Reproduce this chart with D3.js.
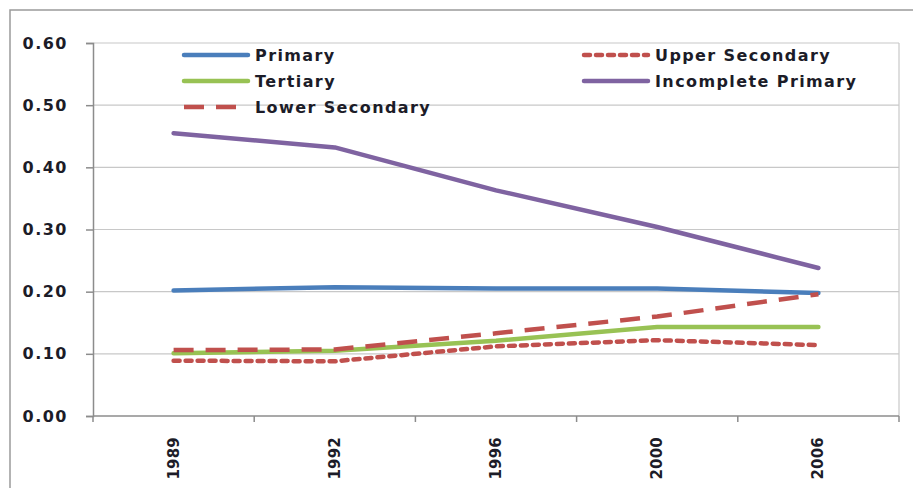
<!DOCTYPE html>
<html>
<head>
<meta charset="utf-8">
<script src="https://cdn.jsdelivr.net/npm/d3@7"></script>
<style>
  body { margin: 0; background: #fff; }
  text { font-family: "DejaVu Sans", Verdana, sans-serif; font-weight: bold; fill: #1c1c28; }
</style>
</head>
<body>
<div class="render"></div>
<script>
'use strict';

// data
var years = ['1989', '1992', '1996', '2000', '2006'];
var primary = [0.202, 0.207, 0.205, 0.205, 0.198];
var upperSecondary = [0.089, 0.088, 0.112, 0.122, 0.114];
var tertiary = [0.101, 0.105, 0.121, 0.143, 0.143];
var incompletePrimary = [0.455, 0.432, 0.363, 0.304, 0.238];
var lowerSecondary = [0.106, 0.107, 0.133, 0.160, 0.196];
var yTicks = [0, 0.1, 0.2, 0.3, 0.4, 0.5, 0.6];

var series = [
  { name: 'Primary', values: primary, color: '#4a7ebb', dash: null, cap: 'round' },
  { name: 'Upper Secondary', values: upperSecondary, color: '#c0504d', dash: '6,6', cap: 'round' },
  { name: 'Tertiary', values: tertiary, color: '#98c254', dash: null, cap: 'round' },
  { name: 'Incomplete Primary', values: incompletePrimary, color: '#7f63a1', dash: null, cap: 'round' },
  { name: 'Lower Secondary', values: lowerSecondary, color: '#c0504d', dash: '20,12', cap: 'butt' }
];

var w = 913, h = 488;
var padLeft = 93, padRight = 899, padTop = 43, padBottom = 416;

var svg = d3.select('.render').append('svg').attr('width', w).attr('height', h);

// outer chart border
svg.append('rect').attr('x', 10).attr('y', 10).attr('width', 960).attr('height', 600)
  .attr('fill', 'none').attr('stroke', '#9a9a9a').attr('stroke-width', 1.5);

var xScale = d3.scaleBand().domain(years).range([padLeft, padRight]);
var yScale = d3.scaleLinear().domain([0, 0.6]).range([padBottom, padTop]);

// gridlines
svg.append('g').selectAll('line').data(yTicks.slice(1)).enter().append('line')
  .attr('x1', padLeft).attr('x2', padRight)
  .attr('y1', function (d) { return yScale(d); }).attr('y2', function (d) { return yScale(d); })
  .attr('stroke', '#c8c8c8').attr('stroke-width', 1.2);

// plot area right border
svg.append('line').attr('x1', padRight).attr('x2', padRight).attr('y1', padTop).attr('y2', padBottom)
  .attr('stroke', '#c8c8c8').attr('stroke-width', 1.2);

var yAxis = d3.axisLeft(yScale).tickValues(yTicks).tickSize(7).tickPadding(18).tickFormat(d3.format('.2f'));
var gy = svg.append('g').attr('transform', 'translate(' + padLeft + ',0)').call(yAxis);
gy.select('.domain').attr('stroke', '#8c8c8c').attr('stroke-width', 1.5);
gy.selectAll('.tick line').attr('stroke', '#8c8c8c').attr('stroke-width', 1.5);
gy.selectAll('.tick text').style('font-size', '16px').style('letter-spacing', '1.5px').attr('fill', '#1c1c28');

// x axis: ticks at band edges
var edges = years.map(function (d) { return xScale(d); }).concat([padRight]);
svg.append('line').attr('x1', padLeft).attr('x2', padRight).attr('y1', padBottom).attr('y2', padBottom)
  .attr('stroke', '#8c8c8c').attr('stroke-width', 1.5);
svg.append('g').selectAll('line').data(edges).enter().append('line')
  .attr('x1', function (d) { return d; }).attr('x2', function (d) { return d; })
  .attr('y1', padBottom).attr('y2', padBottom + 6)
  .attr('stroke', '#8c8c8c').attr('stroke-width', 1.5);
svg.append('g').selectAll('text').data(years).enter().append('text')
  .text(function (d) { return d; })
  .attr('transform', function (d) {
    return 'translate(' + (xScale(d) + xScale.bandwidth() / 2) + ',' + 437 + ')rotate(-90)';
  })
  .attr('text-anchor', 'end').attr('dominant-baseline', 'central')
  .style('font-size', '15px').style('letter-spacing', '0.2px');

// lines
var line = d3.line()
  .x(function (d, i) { return xScale(years[i]) + xScale.bandwidth() / 2; })
  .y(function (d) { return yScale(d); });

svg.append('g').selectAll('path').data(series).enter().append('path')
  .attr('d', function (s) { return line(s.values); })
  .attr('fill', 'none')
  .attr('stroke', function (s) { return s.color; })
  .attr('stroke-width', 4.5)
  .attr('stroke-linejoin', 'round')
  .attr('stroke-linecap', function (s) { return s.cap; })
  .attr('stroke-dasharray', function (s) { return s.dash; });

// legend, two columns, row-major
var lg = svg.append('g').selectAll('g').data(series).enter().append('g')
  .attr('transform', function (s, i) {
    var col = i % 2, row = Math.floor(i / 2);
    return 'translate(' + (col ? 582 : 182) + ',' + (55 + row * 26) + ')';
  });
lg.append('line').attr('x1', 2).attr('x2', 66).attr('y1', 0).attr('y2', 0)
  .attr('stroke', function (s) { return s.color; })
  .attr('stroke-width', 4.5)
  .attr('stroke-linecap', function (s) { return s.cap; })
  .attr('stroke-dasharray', function (s) { return s.dash; });
lg.append('text').text(function (s) { return s.name; })
  .attr('x', 73).attr('y', 0).attr('dominant-baseline', 'central')
  .style('font-size', '16px').style('letter-spacing', '1.4px');
</script>
</body>
</html>
